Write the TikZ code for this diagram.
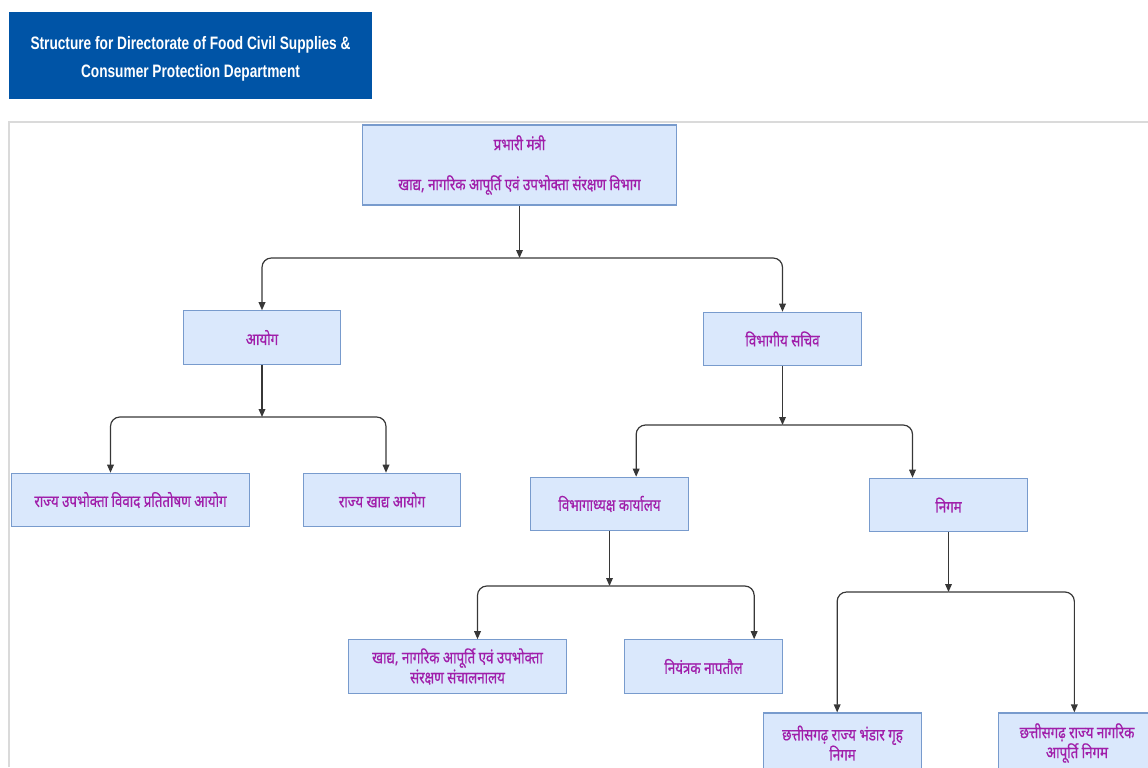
\documentclass[tikz,border=0pt]{standalone}
\usepackage{fontspec}
\setmainfont{Liberation Sans}
\newfontfamily\hindifont[Script=Devanagari,FakeStretch=0.8,FakeBold=0.6]{Noto Sans}
\newfontfamily\titlefont[FakeStretch=0.76]{Liberation Sans}
\usetikzlibrary{arrows.meta}

\definecolor{boxfill}{RGB}{218,232,252}
\definecolor{boxline}{RGB}{120,155,205}
\definecolor{hinditext}{RGB}{160,30,170}
\definecolor{titleblue}{RGB}{0,84,166}
\definecolor{framegray}{RGB}{218,218,218}
\definecolor{linkgray}{RGB}{55,55,55}

\tikzset{every picture/.style={line width=0.75pt}}
\tikzset{
  orgbox/.style={draw=boxline, fill=boxfill, line width=0.9pt, text=hinditext,
    font=\hindifont\fontsize{12.5}{15}\selectfont, align=center, inner sep=2pt,
    minimum width=118pt, minimum height=40pt},
  link/.style={draw=linkgray, line width=0.9pt, rounded corners=7pt,
    -{Triangle[length=6pt,width=5pt]}},
}

\begin{document}
\begin{tikzpicture}[x=0.75pt,y=0.75pt,yscale=-1,xscale=1]
\useasboundingbox (0,0) rectangle (1148,767);

%Shape: Rectangle (title)
\node (title) at (190.5,55.5) [fill=titleblue, minimum width=272pt, minimum height=65pt, inner sep=0pt,
  text=white, align=center, font=\titlefont\bfseries\fontsize{13.5}{21}\selectfont]
  {\rule{0pt}{15pt}Structure for Directorate of Food Civil Supplies \&\\Consumer Protection Department};
%Straight Lines (frame)
\draw [framegray, line width=1.5pt] (9,767) -- (9,122) -- (1150,122);

%Shape: Rectangle
\node (prabhari) at (519.5,165) [orgbox, minimum width=236pt, minimum height=60pt,
  font=\hindifont\fontsize{12.5}{30}\selectfont]
  {प्रभारी मंत्री\\खाद्य, नागरिक आपूर्ति एवं उपभोक्ता संरक्षण विभाग};
%Shape: Rectangle
\node (aayog) at (262,337.5) [orgbox] {आयोग};
%Shape: Rectangle
\node (sachiv) at (782.5,339) [orgbox] {विभागीय सचिव};
%Shape: Rectangle
\node (upbhokta) at (130.5,500) [orgbox, minimum width=178pt] {राज्य उपभोक्ता विवाद प्रतितोषण आयोग};
%Shape: Rectangle
\node (khadyaayog) at (382,500) [orgbox] {राज्य खाद्य आयोग};
%Shape: Rectangle
\node (vibhagadhyaksh) at (609.5,504) [orgbox] {विभागाध्यक्ष कार्यालय};
%Shape: Rectangle
\node (nigam) at (948.5,505) [orgbox] {निगम};
%Shape: Rectangle
\node (sanchalanalay) at (457.5,666.5) [orgbox, minimum width=163pt]
  {खाद्य, नागरिक आपूर्ति एवं उपभोक्ता\\संरक्षण संचालनालय};
%Shape: Rectangle
\node (naptaul) at (703.5,666.5) [orgbox] {नियंत्रक नापतौल};
%Shape: Rectangle
\node (bhandar) at (842.5,743) [orgbox, minimum height=45pt]
  {छत्तीसगढ़ राज्य भंडार गृह\\निगम};
%Shape: Rectangle
\node (aapurti) at (1077,743) [orgbox, minimum height=45pt]
  {छत्तीसगढ़ राज्य नागरिक\\आपूर्ति निगम};

%Junctions
\coordinate (j1) at (519.5,258);
\coordinate (j2) at (262,417);
\coordinate (j3) at (782.5,425);
\coordinate (j4) at (609.5,586);
\coordinate (j5) at (948.5,592);

%Straight Lines
\draw [link] (prabhari) -- (j1);
\draw [link] (j1) -| (aayog);
\draw [link] (j1) -| (sachiv);
%Straight Lines
\draw [link] (aayog) -- (j2);
\draw [link] (j2) -| ([xshift=-15pt]upbhokta.north);
\draw [link] (j2) -| ([xshift=3pt]khadyaayog.north);
%Straight Lines
\draw [link] (sachiv) -- (j3);
\draw [link] (j3) -| ([xshift=20pt]vibhagadhyaksh.north);
\draw [link] (j3) -| ([xshift=-27pt]nigam.north);
%Straight Lines
\draw [link] (vibhagadhyaksh) -- (j4);
\draw [link] (j4) -| ([xshift=15pt]sanchalanalay.north);
\draw [link] (j4) -| ([xshift=38pt]naptaul.north);
%Straight Lines
\draw [link] (nigam) -- (j5);
\draw [link] (j5) -| ([xshift=-4pt]bhandar.north);
\draw [link] (j5) -| ([xshift=-2pt]aapurti.north);
\end{tikzpicture}
\end{document}
